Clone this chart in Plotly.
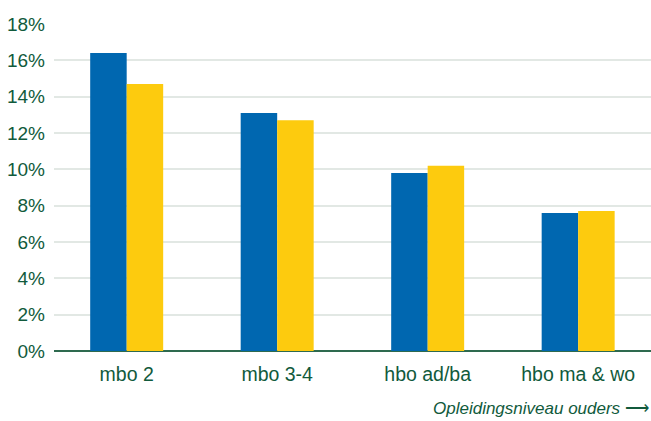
import plotly.graph_objects as go

categories = ["mbo 2", "mbo 3-4", "hbo ad/ba", "hbo ma & wo"]
series_blue = [16.4, 13.1, 9.8, 7.6]
series_yellow = [14.7, 12.7, 10.2, 7.7]
y_ticks = [0, 2, 4, 6, 8, 10, 12, 14, 16, 18]
y_tick_labels = [f"{v}%" for v in y_ticks]

GREEN = "#115a3c"
FONT = "Liberation Sans, Arial, sans-serif"

fig = go.Figure()
fig.add_trace(go.Bar(x=categories, y=series_blue, marker=dict(color="#0067b0", line=dict(width=0)),
                     showlegend=False))
fig.add_trace(go.Bar(x=categories, y=series_yellow, marker=dict(color="#fdcb0e", line=dict(width=0)),
                     showlegend=False))

fig.update_layout(
    width=651, height=421,
    margin=dict(l=54, r=0, t=24, b=70),
    paper_bgcolor="white", plot_bgcolor="white",
    barmode="group", bargap=0.515, bargroupgap=0,
    font=dict(family=FONT, color=GREEN, size=19),
    xaxis=dict(
        range=[-0.483, 3.484],
        showgrid=False, showline=False, zeroline=False,
        ticks="", ticklabelstandoff=9,
        tickfont=dict(size=19.5, color=GREEN),
    ),
    yaxis=dict(
        range=[0, 18],
        tickvals=y_ticks, ticktext=y_tick_labels,
        showgrid=True, gridcolor="#e2e8e4", gridwidth=1.8,
        zeroline=True, zerolinecolor="#2e6a4f", zerolinewidth=1.5,
        showline=False, ticks="", ticklabelstandoff=8,
        tickfont=dict(size=19, color=GREEN),
    ),
    annotations=[dict(
        text="<i>Opleidingsniveau ouders</i> ⟶",
        xref="paper", yref="paper", x=1.0, y=-0.175,
        xanchor="right", yanchor="middle", showarrow=False,
        font=dict(size=17, color=GREEN, family=FONT),
    )],
)

fig.write_html("out.html")
